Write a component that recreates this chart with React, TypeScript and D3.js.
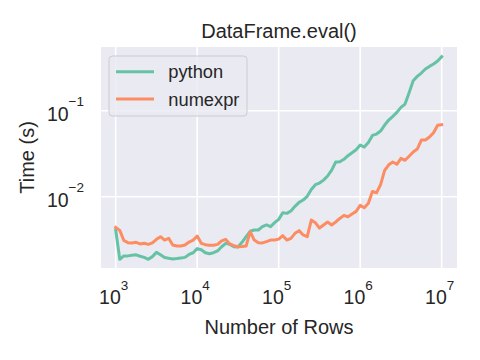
import React from "react";
import * as d3 from "d3";

const rows = [
  1000, 1122, 1259, 1413, 1585, 1778, 1995, 2239, 2512, 2818,
  3162, 3548, 3981, 4467, 5012, 5623, 6310, 7079, 7943, 8913,
  10000, 11220, 12589, 14125, 15849, 17783, 19953, 22387, 25119, 28184,
  31623, 35481, 39811, 44668, 50119, 56234, 63096, 70795, 79433, 89125,
  100000, 112202, 125893, 141254, 158489, 177828, 199526, 223872, 251189, 281838,
  316228, 354813, 398107, 446684, 501187, 562341, 630957, 707946, 794328, 891251,
  1000000, 1122018, 1258925, 1412538, 1584893, 1778279, 1995262, 2238721, 2511886, 2818383,
  3162278, 3548134, 3981072, 4466836, 5011872, 5623413, 6309573, 7079458, 7943282, 8912509,
  10000000,
];

const pythonTime = [
  0.0041, 0.00187, 0.00205, 0.00205, 0.00209, 0.00211, 0.00203, 0.00197, 0.00187, 0.00201,
  0.00225, 0.00211, 0.00196, 0.00192, 0.00189, 0.00191, 0.00194, 0.00197, 0.00213, 0.00223,
  0.00249, 0.00242, 0.00223, 0.00217, 0.00223, 0.00234, 0.00262, 0.00287, 0.00279, 0.00262,
  0.0026, 0.00295, 0.00343, 0.00396, 0.0041, 0.0041, 0.00448, 0.00469, 0.00448, 0.00499,
  0.00545, 0.00652, 0.0064, 0.00682, 0.00772, 0.0086, 0.00915, 0.0101, 0.0121, 0.0138,
  0.0144, 0.0156, 0.0174, 0.0204, 0.0253, 0.0255, 0.0272, 0.03, 0.0325, 0.0352,
  0.0399, 0.0378, 0.0428, 0.0516, 0.0535, 0.058, 0.0681, 0.0779, 0.086, 0.0956,
  0.1093, 0.1195, 0.1619, 0.2232, 0.2506, 0.274, 0.305, 0.3276, 0.3488, 0.3779,
  0.4245,
];

const numexprTime = [
  0.0044, 0.00406, 0.0031, 0.00292, 0.0029, 0.00295, 0.00282, 0.00287, 0.00279, 0.0029,
  0.00319, 0.00343, 0.00313, 0.00328, 0.00274, 0.00267, 0.00267, 0.00274, 0.00297, 0.00313,
  0.00349, 0.00287, 0.00277, 0.00272, 0.00272, 0.00279, 0.00307, 0.00319, 0.00282, 0.00269,
  0.00262, 0.00264, 0.00267, 0.00392, 0.00313, 0.00292, 0.0029, 0.003, 0.00313, 0.00313,
  0.00321, 0.00352, 0.00313, 0.00328, 0.00375, 0.00403, 0.00359, 0.00343, 0.00535, 0.00499,
  0.00432, 0.00469, 0.00508, 0.00469, 0.00508, 0.00559, 0.00606, 0.00585, 0.00629, 0.00675,
  0.00793, 0.00745, 0.00837, 0.01148, 0.0111, 0.0138, 0.0202, 0.0235, 0.0253, 0.0238,
  0.0279, 0.0265, 0.0295, 0.0331, 0.0358, 0.0456, 0.0456, 0.0494, 0.0555, 0.0676,
  0.0688,
];

const xTickExps = [3, 4, 5, 6, 7];
const yTickExps = [-1, -2];
const seriesNames = ["python", "numexpr"];
const seriesColors = ["#66c2a5", "#fc8d62"];

const W = 480;
const H = 360;
const plot = { left: 101, right: 457, top: 47, bottom: 268 };
const FONT = "'Liberation Sans', Arial, sans-serif";
const TEXT = "#262626";

export default function App() {
  const x = d3.scaleLog().domain([1e3, 1e7]).range([115.7, 441.7]);
  const y = d3.scaleLog().domain([1e-2, 1e-1]).range([196.7, 110.7]);
  const series = [pythonTime, numexprTime];
  const line = (vals: number[]) =>
    d3
      .line<number>()
      .x((_, i) => x(rows[i]))
      .y((v) => y(v))(vals) as string;

  const minus = "\u2212";

  return (
    <svg
      width={W}
      height={H}
      style={{ position: "absolute", left: 0, top: 0, background: "#fff" }}
      fontFamily={FONT}
    >
      <defs>
        <clipPath id="clip">
          <rect x={plot.left} y={plot.top} width={plot.right - plot.left} height={plot.bottom - plot.top} />
        </clipPath>
      </defs>
      <rect x={plot.left} y={plot.top} width={plot.right - plot.left} height={plot.bottom - plot.top} fill="#eaeaf2" />
      {xTickExps.map((e) => (
        <line key={"gx" + e} x1={x(10 ** e)} x2={x(10 ** e)} y1={plot.top} y2={plot.bottom} stroke="#fff" strokeWidth={1.6} />
      ))}
      {yTickExps.map((e) => (
        <line key={"gy" + e} x1={plot.left} x2={plot.right} y1={y(10 ** e)} y2={y(10 ** e)} stroke="#fff" strokeWidth={1.6} />
      ))}
      <g clipPath="url(#clip)">
        {series.map((s, i) => (
          <path key={i} d={line(s)} fill="none" stroke={seriesColors[i]} strokeWidth={3} strokeLinejoin="round" strokeLinecap="square" />
        ))}
      </g>
      {xTickExps.map((e) => (
        <text key={"tx" + e} x={x(10 ** e) - 2} y={304.3} textAnchor="middle" fontSize={19.5} fill={TEXT}>
          <tspan>10</tspan>
          <tspan dy={-14.5} fontSize={13.5}>{e}</tspan>
        </text>
      ))}
      {yTickExps.map((e) => (
        <text key={"ty" + e} x={84} y={y(10 ** e) + 10} textAnchor="end" fontSize={19.5} fill={TEXT}>
          <tspan>10</tspan>
          <tspan dy={-14.5} fontSize={13.5}>{minus + Math.abs(e)}</tspan>
        </text>
      ))}
      <text x={279} y={37.5} textAnchor="middle" fontSize={20} fill={TEXT}>DataFrame.eval()</text>
      <text x={279} y={334} textAnchor="middle" fontSize={20} fill={TEXT}>Number of Rows</text>
      <text transform={`translate(34,157.5) rotate(-90)`} textAnchor="middle" fontSize={20} fill={TEXT}>Time (s)</text>
      <rect x={109} y={56} width={138} height={60} rx={3.5} fill="#eaeaf2" fillOpacity={0.8} stroke="#cccccc" strokeWidth={1} />
      {seriesNames.map((n, i) => (
        <g key={n}>
          <line x1={116} x2={154} y1={71.7 + i * 27.3} y2={71.7 + i * 27.3} stroke={seriesColors[i]} strokeWidth={3} />
          <text x={168.3} y={71.7 + i * 27.3 + 6.5} fontSize={18.3} fill={TEXT}>{n}</text>
        </g>
      ))}
    </svg>
  );
}
